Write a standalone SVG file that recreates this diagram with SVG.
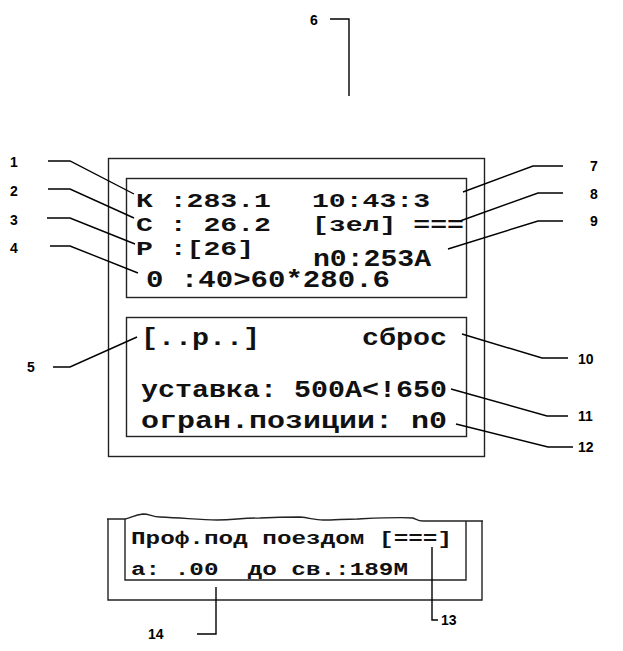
<svg xmlns="http://www.w3.org/2000/svg" width="623" height="651" viewBox="0 0 623 651">
<style>
.box{fill:none;stroke:#222;stroke-width:1.4}
.ld{fill:none;stroke:#000;stroke-width:1.4}
.lbl{font-family:"Liberation Sans",Arial,sans-serif;font-weight:bold;font-size:14px;fill:#000}
.lcd{font-family:"Liberation Mono","Courier New",monospace;font-weight:bold;font-size:23px;fill:#111;white-space:pre}
.lcd1{font-family:"Liberation Mono","Courier New",monospace;font-weight:bold;font-size:21px;fill:#111;white-space:pre}
.lcd2{font-family:"Liberation Mono","Courier New",monospace;font-weight:bold;font-size:19px;fill:#111;white-space:pre}
</style>
<rect width="623" height="651" fill="#fff"/>
<g id="display">
<rect class="box" x="108.5" y="158.5" width="376" height="298"/>
</g>
<g id="upper-panel">
<rect class="box" x="126.5" y="178.5" width="340" height="119"/>
<text class="lcd1" x="136" y="207" textLength="135" lengthAdjust="spacingAndGlyphs">К :283.1</text>
<text class="lcd1" x="136" y="231" textLength="135" lengthAdjust="spacingAndGlyphs">С : 26.2</text>
<text class="lcd1" x="136" y="255" textLength="118" lengthAdjust="spacingAndGlyphs">Р :[26]</text>
<text class="lcd" x="146" y="287" textLength="244" lengthAdjust="spacingAndGlyphs">0 :40&gt;60*280.6</text>
<text class="lcd1" x="312" y="207" textLength="118" lengthAdjust="spacingAndGlyphs">10:43:3</text>
<text class="lcd1" x="312" y="231" textLength="152" lengthAdjust="spacingAndGlyphs">[зел] ===</text>
<text class="lcd" x="313" y="266" textLength="118" lengthAdjust="spacingAndGlyphs">n0:253A</text>
</g>
<g id="lower-panel">
<rect class="box" x="126.5" y="317.5" width="340" height="119"/>
<text class="lcd" x="141" y="345" textLength="119" lengthAdjust="spacingAndGlyphs">[..р..]</text>
<text class="lcd" x="362" y="345" textLength="85" lengthAdjust="spacingAndGlyphs">сброс</text>
<text class="lcd" x="141" y="397" textLength="306" lengthAdjust="spacingAndGlyphs">уставка: 500A&lt;!650</text>
<text class="lcd" x="141" y="428" textLength="306" lengthAdjust="spacingAndGlyphs">огран.позиции: n0</text>
</g>
<g id="profile-panel">
<path class="box" d="M108,519 V600 H482 V521"/>
<path class="box" d="M125,519 V580 H466 V521"/>
<path class="box" d="M107,519 L125,519 C130,518 135,515 143,514 C150,514 152,517 160,517 C185,518 200,520 217,520 C235,520 240,518 260,518 C280,517 290,517 300,517 C310,518 315,520 323,520 C335,520 345,519 357,519 C380,518 400,517 413,518 C416,519 418,521 423,521 L466,521 L483,521"/>
<text class="lcd2" x="131" y="544" textLength="321" lengthAdjust="spacingAndGlyphs">Проф.под поездом [===]</text>
<text class="lcd2" x="131" y="575" textLength="277" lengthAdjust="spacingAndGlyphs">а: .00  до св.:189М</text>
</g>
<g id="connectors">
<path class="ld" d="M48,161 H70 L134,194"/>
<path class="ld" d="M48,189 H70 L134,218"/>
<path class="ld" d="M47,218 H70 L135,244"/>
<path class="ld" d="M50,246 H70 L138,273"/>
<path class="ld" d="M53,367 H70 L137,337"/>
<path class="ld" d="M330,19 H349 V96"/>
<path class="ld" d="M563,166 H533 L463,192"/>
<path class="ld" d="M563,193 H538 L460,221"/>
<path class="ld" d="M563,221 H538 L448,249"/>
<path class="ld" d="M462,334 L542,358 H568"/>
<path class="ld" d="M451,389 L547,416 H568"/>
<path class="ld" d="M456,424 L548,447 H573"/>
<path class="ld" d="M432,547 V620 H438"/>
<path class="ld" d="M216,587 V634 H197"/>
</g>
<g id="labels">
<text class="lbl" x="10" y="167">1</text>
<text class="lbl" x="10" y="196">2</text>
<text class="lbl" x="10" y="225">3</text>
<text class="lbl" x="10" y="253">4</text>
<text class="lbl" x="27" y="372">5</text>
<text class="lbl" x="310" y="25">6</text>
<text class="lbl" x="590" y="171">7</text>
<text class="lbl" x="590" y="199">8</text>
<text class="lbl" x="590" y="226">9</text>
<text class="lbl" x="578" y="364">10</text>
<text class="lbl" x="578" y="421">11</text>
<text class="lbl" x="578" y="452">12</text>
<text class="lbl" x="441" y="625">13</text>
<text class="lbl" x="148" y="639">14</text>
</g>
</svg>
